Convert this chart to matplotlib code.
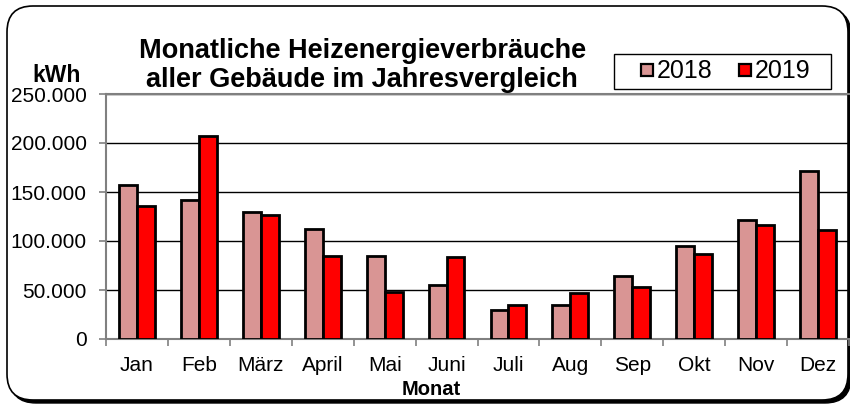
import numpy as np
import matplotlib
matplotlib.use("Agg")
from matplotlib import pyplot as plt
from matplotlib.patches import FancyBboxPatch, Rectangle
from matplotlib.lines import Line2D
from matplotlib.transforms import IdentityTransform

months = ["Jan", "Feb", "März", "April", "Mai", "Juni",
          "Juli", "Aug", "Sep", "Okt", "Nov", "Dez"]
values_2018 = [157000, 142000, 130000, 112000, 85000, 55000,
               30000, 35000, 64500, 94500, 121500, 171000]
values_2019 = [136000, 207500, 127000, 85000, 48000, 84000,
               35000, 47000, 53500, 86500, 116500, 111000]
yticks = [0, 50000, 100000, 150000, 200000, 250000]
ytick_labels = ["0", "50.000", "100.000", "150.000", "200.000", "250.000"]
colors = {"2018": "#D99594", "2019": "#FF0000"}

plt.rcParams['font.family'] = ['Liberation Sans', 'DejaVu Sans']

fig = plt.figure(figsize=(8.5, 4.05), dpi=100)

# rounded frame with a small shadow (pixel coordinates)
shadow = FancyBboxPatch((10, 2), 841, 394, boxstyle="round,pad=0,rounding_size=26",
                        transform=IdentityTransform(), facecolor="black",
                        edgecolor="black", linewidth=1, zorder=-3)
frame = FancyBboxPatch((7, 5), 841, 394, boxstyle="round,pad=0,rounding_size=26",
                       transform=IdentityTransform(), facecolor="white",
                       edgecolor="black", linewidth=1.2, zorder=-2)
# legend box
legbox = Rectangle((614, 316), 217, 35, transform=IdentityTransform(),
                   facecolor="white", edgecolor="black", linewidth=1, zorder=-1)
fig.patches.extend([shadow, frame, legbox])

ax = fig.add_axes([106 / 850, 66 / 405, 743 / 850, 245 / 405])
ax.set_facecolor("none")

x = np.arange(len(months))
w = 0.29
ax.bar(x - w / 2, values_2018, w, color=colors["2018"], edgecolor="black",
       linewidth=2, zorder=3)
ax.bar(x + w / 2, values_2019, w, color=colors["2019"], edgecolor="black",
       linewidth=2, zorder=3)

ax.set_xlim(-0.5, len(months) - 0.5)
ax.set_ylim(0, 250000)
ax.set_yticks(yticks)
ax.set_yticklabels(ytick_labels, fontsize=15)
ax.set_xticks(x)
ax.set_xticklabels(months, fontsize=15)
ax.set_xticks(np.arange(len(months) + 1) - 0.5, minor=True)
ax.tick_params(axis="x", which="major", length=0, pad=12)
ax.tick_params(axis="x", which="minor", length=5, color="#808080", width=1.2)
ax.tick_params(axis="y", length=5, color="#808080", width=1.2, pad=9)

ax.grid(axis="y", color="black", linewidth=1, zorder=0)
ax.set_axisbelow(True)
for side in ["left", "bottom", "top"]:
    ax.spines[side].set_color("#808080")
    ax.spines[side].set_linewidth(1.5)
ax.spines["right"].set_visible(False)

fig.text(0.426, (405 - 86.7) / 405, "Monatliche Heizenergieverbräuche\naller Gebäude im Jahresvergleich",
         ha="center", va="baseline", fontsize=19.5, fontweight="bold", linespacing=1.15)
fig.text(0.067, 0.7975, "kWh", ha="center", va="baseline", fontsize=16.5, fontweight="bold")
fig.text(0.507, 0.024, "Monat", ha="center", va="baseline", fontsize=14.5, fontweight="bold")

handles = [Line2D([], [], linestyle="none", marker="s", markersize=9,
                  markerfacecolor=c, markeredgecolor="black", markeredgewidth=1.6)
           for c in colors.values()]
leg = ax.legend(handles, list(colors.keys()), loc="center left",
                bbox_to_anchor=(639 / 850, 333.5 / 405),
                bbox_transform=fig.transFigure, ncol=2, fontsize=18,
                frameon=False, handlelength=0.65, handletextpad=0.05,
                columnspacing=1.0, borderpad=0, borderaxespad=0)

fig.savefig("out.png", dpi=100)
